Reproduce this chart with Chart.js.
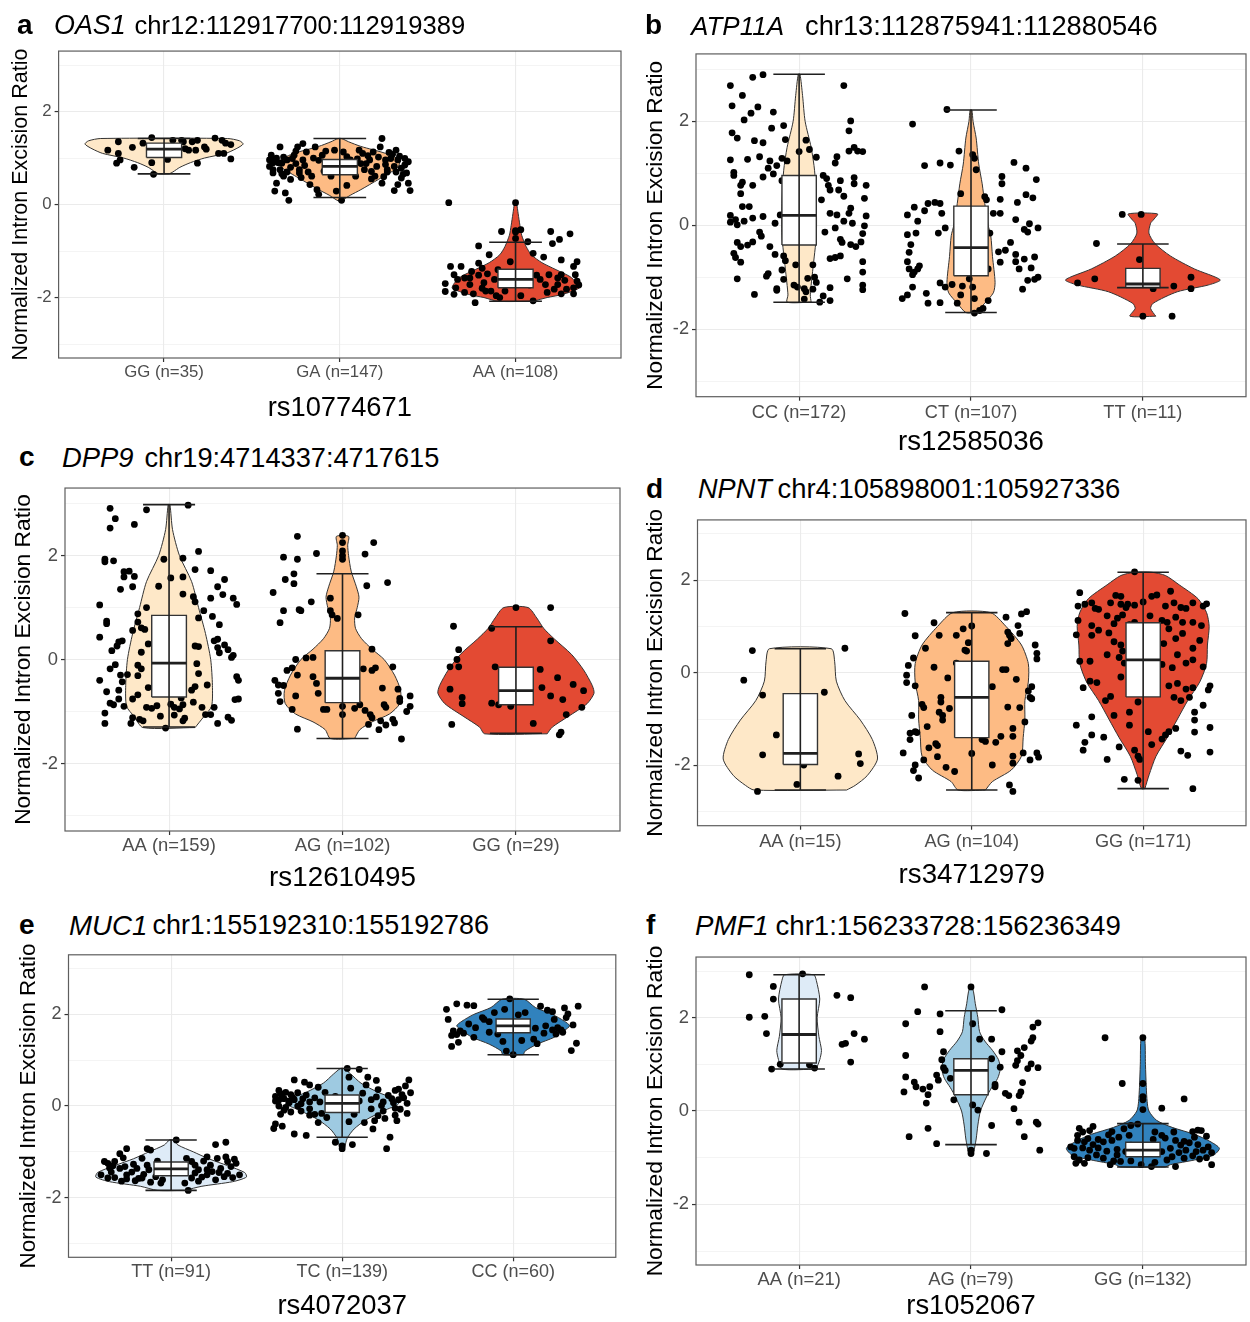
<!DOCTYPE html>
<html lang="en">
<head>
<meta charset="UTF-8" />
<title>Normalized intron excision ratio by genotype</title>
<script src="https://cdn.jsdelivr.net/npm/chart.js"></script>
<style>
  html, body { margin: 0; padding: 0; background: #fff; overflow: hidden; }
  #figure { position: relative; width: 1250px; height: 1322px; overflow: hidden; font-family: 'Liberation Sans', Arial, sans-serif; }
  canvas { position: absolute; }
  .head { position: absolute; white-space: nowrap; line-height: 1; color: #000; z-index: 2; }
  .tag { font-weight: bold; font-size: 28px; }
  .gene { font-style: italic; }
</style>
</head>
<body>
<div id="figure">
  <div class="head tag" style="left:17px;top:11.3px">a</div>
  <div class="head gene" style="left:54px;top:12.2px;font-size:26.9px">OAS1</div>
  <div class="head" style="left:134.5px;top:13.3px;font-size:25.6px">chr12:112917700:112919389</div>

  <div class="head tag" style="left:645px;top:11.3px">b</div>
  <div class="head gene" style="left:691px;top:13px;font-size:26px">ATP11A</div>
  <div class="head" style="left:805px;top:11.9px;font-size:27.3px">chr13:112875941:112880546</div>

  <div class="head tag" style="left:19px;top:443px">c</div>
  <div class="head gene" style="left:62px;top:443.5px;font-size:27.4px">DPP9</div>
  <div class="head" style="left:144.5px;top:443.7px;font-size:27.2px">chr19:4714337:4717615</div>

  <div class="head tag" style="left:646px;top:474.6px">d</div>
  <div class="head gene" style="left:698px;top:475.4px;font-size:27.1px">NPNT</div>
  <div class="head" style="left:777.5px;top:475.1px;font-size:27.4px">chr4:105898001:105927336</div>

  <div class="head tag" style="left:19px;top:911.3px">e</div>
  <div class="head gene" style="left:69px;top:911.6px;font-size:27.7px">MUC1</div>
  <div class="head" style="left:152.5px;top:912.2px;font-size:26.9px">chr1:155192310:155192786</div>

  <div class="head tag" style="left:646px;top:911.3px">f</div>
  <div class="head gene" style="left:695px;top:911.6px;font-size:27.6px">PMF1</div>
  <div class="head" style="left:775.5px;top:911.6px;font-size:27.6px">chr1:156233728:156236349</div>

  <canvas id="panelA"></canvas>
  <canvas id="panelB"></canvas>
  <canvas id="panelC"></canvas>
  <canvas id="panelD"></canvas>
  <canvas id="panelE"></canvas>
  <canvas id="panelF"></canvas>
</div>

<script>
// ---------- data ----------
// box = [lower whisker, Q1, median, Q3, upper whisker]
// violin profile = [y, half width in category units]
// points = [horizontal jitter, y]
const yTitle = 'Normalized Intron Excision Ratio';
const yTickValues = [-3, -2, -1, 0, 1, 2, 3];
const oranges = ['#fee8c8', '#fdbb84', '#e34a33'];
const blues = ['#deebf7', '#9ecae1', '#3182bd'];

// a: OAS1
const aSnp = 'rs10774671';
const aGroups = ['GG (n=35)', 'GA (n=147)', 'AA (n=108)'];
const aBox = [[0.66, 1.01, 1.19, 1.32, 1.42], [0.15, 0.64, 0.82, 0.97, 1.42], [-2.08, -1.79, -1.61, -1.39, -0.81]];
const aViolin1 = [[1.42,0.36],[1.37,0.43],[1.3,0.45],[1.2,0.41],[1.1,0.35],[1.0,0.23],[0.9,0.15],[0.8,0.09],[0.7,0.05],[0.66,0.03]];
const aViolin2 = [[1.42,0.01],[1.35,0.05],[1.25,0.12],[1.1,0.26],[0.95,0.34],[0.8,0.33],[0.65,0.27],[0.54,0.22],[0.32,0.12],[0.2,0.06],[0.08,0.01]];
const aViolin3 = [[0.03,0.005],[-0.2,0.015],[-0.45,0.025],[-0.66,0.035],[-0.9,0.06],[-1.08,0.09],[-1.25,0.15],[-1.4,0.23],[-1.55,0.31],[-1.7,0.35],[-1.8,0.36],[-1.93,0.27],[-2.0,0.18],[-2.08,0.1]];
const aPoints1 = [[-.26,1.35],[-.18,1.23],[-.12,1.32],[-.07,1.44],[-.32,1.17],[-.26,1.10],[-.25,.96],[-.27,.89],[-.17,.80],[-.07,.90],[-.06,.65],[.02,.97],[.05,1.38],[.10,1.38],[.11,1.35],[.12,1.20],[.14,1.17],[.16,1.35],[.18,1.17],[.19,1.38],[.19,.89],[.23,1.24],[.24,1.19],[.29,1.43],[.31,1.10],[.33,1.38],[.34,1.10],[.35,1.32],[.38,1.29],[.38,.98]];
const aPoints2 = [[-.39,1.06],[-.37,.96],[-.34,1.24],[-.40,.82],[-.38,.68],[-.34,.75],[-.32,.61],[-.36,.46],[-.37,.29],[-.31,.25],[-.29,.09],[-.30,.96],[-.26,1.06],[-.24,1.24],[-.21,.96],[-.23,.75],[-.19,1.13],[-.16,.61],[-.17,.43],[-.13,.32],[-.12,.22],[-.14,1.24],[-.10,1.06],[-.07,.85],[-.05,.61],[-.03,1.17],[-.02,.29],[.01,.09],[.02,1.13],[.04,1.03],[.06,.96],[.09,.61],[.11,1.17],[.13,1.10],[.14,.75],[.17,.96],[.19,1.13],[.20,.61],[.21,.82],[.23,1.24],[.24,1.42],[.26,.96],[.27,.75],[.29,.99],[.31,.82],[.32,1.17],[.33,.96],[.35,.57],[.37,.85],[.38,.68],[.39,.46],[.40,.30],[.31,.30],[.33,.43],[.24,.46],[.18,.71],[.04,.41],[-.23,.68],[-.33,.89],[-.21,1.31],[-.40,.96],[-.28,.54],[-.35,.90],[-.28,.80],[-.25,.88],[-.18,.70],[-.12,.95],[.15,.88],[.22,1.02],[.27,.70],[.35,.78],[.30,1.08],[-.38,.75],[-.30,.70],[.36,.65],[.10,.98],[-.08,1.15],[.18,.55],[-.22,.58],[.26,.86],[-.32,1.02],[.39,.92],[-.36,1.0],[-.33,.66],[-.27,.99],[-.20,.84],[-.15,1.0],[-.09,.72],[.07,.72],[.12,.88],[.16,1.05],[.28,1.12],[.34,1.04],[.37,.99],[-.25,1.15],[-.38,.9],[.25,.6],[.32,.7]];
const aPoints3 = [[-.38,.04],[0,.04],[0,-.56],[0,-.59],[0,-.73],[-.08,-.58],[.03,-.54],[.20,-.58],[.25,-.75],[.31,-.63],[.07,-.80],[.21,-.84],[-.21,-.89],[.10,-1.05],[.16,-1.13],[-.15,-1.08],[.26,-1.19],[.35,-1.23],[-.03,-1.23],[-.21,-1.26],[-.37,-1.33],[-.31,-1.33],[.33,-1.33],[-.19,-1.37],[-.10,-1.40],[-.25,-1.44],[-.35,-1.51],[-.29,-1.58],[-.21,-1.52],[-.16,-1.49],[-.12,-1.61],[.12,-1.52],[.19,-1.51],[.24,-1.58],[.28,-1.63],[.35,-1.65],[-.40,-1.70],[-.34,-1.79],[-.26,-1.72],[-.19,-1.80],[-.07,-1.72],[.08,-1.73],[.17,-1.72],[.22,-1.82],[.33,-1.79],[.36,-1.73],[-.40,-1.87],[-.35,-1.93],[-.29,-1.89],[-.24,-1.92],[-.17,-1.86],[-.11,-1.96],[-.06,-1.86],[.03,-1.96],[.10,-2.07],[-.23,-2.11],[.18,-1.89],[.26,-1.92],[.33,-1.92],[.24,-1.72],[-.33,-1.61],[-.09,-2.0],[.29,-1.82],[.14,-1.61],[-.14,-1.86],[-.26,-1.58],[-.18,-1.68],[.26,-1.51],[.34,-1.51]];

// b: ATP11A
const bSnp = 'rs12585036';
const bGroups = ['CC (n=172)', 'CT (n=107)', 'TT (n=11)'];
const bBox = [[-1.48, -0.38, 0.19, 0.96, 2.91], [-1.68, -0.97, -0.43, 0.37, 2.22], [-1.2, -1.2, -1.13, -0.83, -0.36]];
const bViolin1 = [[2.91,0.005],[2.5,0.02],[2.0,0.035],[1.5,0.07],[1.05,0.09],[0.42,0.1],[-0.2,0.1],[-0.84,0.08],[-1.34,0.065],[-1.48,0.07]];
const bViolin2 = [[2.22,0.005],[2.0,0.012],[1.68,0.03],[1.18,0.045],[0.8,0.065],[0.42,0.08],[0.0,0.1],[-0.2,0.115],[-0.6,0.125],[-1.1,0.14],[-1.3,0.13],[-1.5,0.08],[-1.68,0.03]];
const bViolin3 = [[0.22,0.085],[0.1,0.06],[0.04,0.045],[-0.15,0.035],[-0.35,0.07],[-0.59,0.16],[-0.84,0.3],[-1.05,0.45],[-1.15,0.38],[-1.28,0.2],[-1.5,0.06],[-1.6,0.045],[-1.75,0.075]];
const bPoints1 = [[-.40,2.69],[-.27,2.85],[-.21,2.90],[-.33,2.50],[-.39,2.30],[-.24,2.28],[-.32,2.03],[-.28,2.16],[-.15,2.18],[-.09,1.92],[-.16,1.87],[-.39,1.78],[-.36,1.68],[-.26,1.63],[-.21,1.59],[-.08,1.65],[.04,1.64],[.06,1.46],[0,1.42],[.26,2.69],[.30,2.01],[.29,1.82],[.32,1.50],[.29,1.43],[.34,1.43],[.37,1.42],[.22,1.32],[.10,1.31],[-.23,1.32],[-.30,1.27],[-.40,1.26],[-.10,1.29],[-.07,1.24],[-.17,1.24],[-.18,1.10],[-.13,1.15],[.21,1.20],[-.38,1.02],[-.38,.96],[-.21,.93],[-.15,.99],[.14,.96],[.16,.90],[.32,.92],[.24,.86],[.32,.80],[.39,.77],[.17,.77],[-.33,.83],[-.34,.77],[-.27,.77],[-.34,.61],[-.10,.86],[.18,.68],[.23,.68],[.26,.56],[.13,.49],[.38,.52],[.30,.33],[.29,.23],[-.33,.36],[-.29,.36],[-.40,.19],[-.27,.14],[-.21,.17],[-.37,.11],[-.40,.06],[-.32,.08],[-.36,.01],[-.14,.04],[-.11,.20],[.18,.23],[.22,.20],[.39,.18],[.31,.04],[.38,-.01],[.26,.08],[.15,-.13],[.21,-.05],[.37,-.16],[-.23,-.13],[-.22,-.21],[-.36,-.33],[-.34,-.41],[-.27,-.32],[-.30,-.38],[-.17,-.41],[.24,-.27],[.25,-.33],[.30,-.37],[.33,-.41],[.36,-.32],[-.38,-.54],[-.37,-.62],[-.34,-.71],[-.14,-.56],[-.09,-.59],[-.08,-.68],[-.02,-.76],[.08,-.76],[.18,-.64],[.21,-.62],[.24,-.59],[.37,-.70],[.37,-.90],[-.36,-1.03],[-.18,-.93],[-.19,-.98],[-.10,-.86],[-.09,-1.04],[.05,-1.02],[.09,-1.00],[.10,-1.10],[.28,-1.03],[.37,-1.15],[.37,-1.24],[-.13,-1.22],[-.13,-1.25],[-.03,-1.15],[-.01,-1.19],[.03,-1.22],[.04,-1.28],[.18,-1.20],[-.26,-1.33],[.03,-1.42],[.14,-1.36],[.12,-1.48],[.18,-1.45],[.08,-1.23]];
const bPoints2 = [[-.14,2.23],[-.34,1.95],[-.07,1.43],[.01,1.36],[.02,1.29],[.03,1.07],[-.27,1.15],[-.18,1.20],[-.12,1.16],[.25,1.21],[.32,1.10],[.18,.94],[.18,.80],[.38,.88],[-.06,.61],[.08,.55],[.09,.49],[.17,.50],[.32,.59],[.36,.53],[.27,.44],[-.33,.35],[-.27,.28],[-.25,.42],[-.21,.44],[-.18,.42],[-.17,.23],[-.37,.20],[-.31,.08],[.13,.23],[.17,.23],[.26,.11],[.34,.03],[.39,-.05],[.31,-.08],[.33,-.13],[-.37,-.18],[-.32,-.15],[-.19,-.15],[-.15,-.05],[.11,-.15],[.23,-.33],[-.35,-.37],[-.36,-.52],[.16,-.51],[.20,-.48],[.17,-.71],[.26,-.56],[.31,-.65],[.26,-.70],[.37,-.61],[-.37,-.70],[-.36,-.84],[-.33,-.90],[-.31,-.84],[-.34,-.95],[.10,-.84],[.28,-.84],[.35,-.82],[.39,-1.00],[.33,-1.06],[.37,-1.04],[.30,-1.23],[-.18,-1.11],[-.15,-1.19],[-.11,-1.14],[-.05,-1.17],[-.06,-1.34],[-.01,-1.03],[.01,-1.19],[.02,-1.41],[-.34,-1.19],[-.26,-1.31],[-.37,-1.34],[-.40,-1.41],[-.25,-1.50],[-.18,-1.49],[-.08,-1.50],[.10,-1.45],[.07,-1.60],[.02,-1.69],[.05,-1.64],[-.30,-.78]];
const bPoints3 = [[-.12,.21],[-.01,.21],[-.27,-.35],[-.02,-.66],[-.38,-1.11],[-.28,-1.03],[.06,-1.22],[.18,-1.17],[.28,-1.00],[.28,-1.22],[0,-1.75],[.17,-1.75]];

// c: DPP9
const cSnp = 'rs12610495';
const cGroups = ['AA (n=159)', 'AG (n=102)', 'GG (n=29)'];
const cBox = [[-1.3, -0.72, -0.07, 0.85, 2.98], [-1.52, -0.83, -0.36, 0.17, 1.65], [-1.42, -0.87, -0.6, -0.15, 0.63]];
const cViolin1 = [[2.98,0.005],[2.5,0.02],[2.0,0.06],[1.5,0.13],[1.0,0.17],[0.5,0.21],[0.0,0.24],[-0.5,0.25],[-0.9,0.245],[-1.1,0.2],[-1.31,0.15]];
const cViolin2 = [[2.37,0.035],[2.2,0.03],[2.0,0.035],[1.7,0.05],[1.4,0.08],[1.2,0.095],[1.0,0.085],[0.8,0.07],[0.6,0.075],[0.4,0.11],[0.2,0.17],[0.0,0.24],[-0.3,0.3],[-0.6,0.335],[-0.85,0.33],[-1.05,0.27],[-1.2,0.17],[-1.35,0.1],[-1.52,0.07]];
const cViolin3 = [[1.0,0.07],[0.8,0.12],[0.6,0.16],[0.4,0.22],[0.1,0.32],[-0.2,0.39],[-0.5,0.44],[-0.65,0.45],[-0.85,0.41],[-1.1,0.3],[-1.3,0.21],[-1.43,0.18]];
const cPoints1 = [[-.34,2.91],[-.13,2.88],[.11,2.97],[-.31,2.71],[-.34,2.53],[-.20,2.60],[-.37,1.93],[-.37,1.88],[-.32,1.90],[-.03,1.93],[.08,1.95],[.17,2.08],[-.26,1.69],[-.23,1.70],[-.26,1.59],[-.20,1.60],[-.28,1.35],[-.21,1.40],[-.06,1.41],[.01,1.57],[.08,1.59],[.15,1.73],[.24,1.71],[.32,1.54],[.28,1.40],[.31,1.25],[.37,1.18],[.39,1.06],[.24,1.18],[.14,1.21],[.15,1.11],[.08,1.26],[-.40,1.05],[-.13,1.00],[-.18,.88],[.20,.94],[.17,.80],[.25,.83],[-.36,.74],[-.36,.69],[-.18,.72],[-.16,.61],[-.14,.58],[-.21,.56],[.29,.67],[.28,.39],[.26,.36],[.32,.28],[.34,.19],[.37,.08],[-.40,.43],[-.29,.34],[-.27,.36],[-.30,.26],[-.33,.17],[-.12,.30],[-.16,.14],[.15,.26],[.17,.25],[.28,.23],[.29,.13],[-.34,-.18],[-.31,-.10],[-.18,-.11],[-.16,-.18],[-.28,-.30],[-.24,-.29],[-.27,-.43],[-.18,-.31],[.16,-.08],[.17,-.27],[.15,-.52],[.13,-.59],[.39,-.33],[.40,-.40],[.36,.04],[-.40,-.40],[-.36,-.62],[-.34,-.84],[-.32,-.87],[-.29,-.59],[-.26,-.90],[-.21,-.76],[-.18,-.68],[-.12,-.54],[0,-.65],[.07,-.74],[.08,-.87],[.14,-.82],[.19,-.92],[.26,-.92],[.38,-.77],[.40,-.76],[-.13,-.92],[-.10,-.94],[-.07,-.89],[-.05,-1.09],[.03,-.92],[.03,-1.07],[.08,-1.18],[.09,-1.13],[.21,-1.06],[.24,-1.06],[.28,-1.23],[.34,-1.11],[.36,-1.17],[-.37,-1.03],[-.37,-1.23],[-.22,-1.23],[-.21,-1.12],[-.17,-1.15],[-.15,-1.18],[-.02,-1.32],[.01,-.86],[.06,-.95],[-.29,-.76],[.22,-.49]];
const cPoints2 = [[0,2.39],[0,2.25],[0,2.09],[0,2.0],[0,1.93],[-.26,2.37],[.18,2.25],[-.15,2.04],[.13,2.03],[-.34,1.97],[-.26,1.93],[-.28,1.65],[-.33,1.54],[-.28,1.46],[.14,1.42],[.26,1.48],[-.40,1.29],[-.07,1.18],[-.18,1.11],[-.34,.94],[-.25,.96],[-.24,.94],[-.07,.94],[-.06,.86],[-.03,.79],[.09,.86],[-.36,.71],[.17,.20],[-.27,0],[-.21,.03],[-.17,.04],[-.32,-.21],[-.29,-.16],[-.26,-.30],[-.39,-.40],[-.37,-.49],[-.34,-.50],[-.37,-.65],[-.36,-.81],[-.27,-.70],[-.29,-.96],[-.26,-1.34],[-.17,-.33],[-.15,-.46],[-.14,-.65],[-.11,-.96],[-.09,-.96],[0,-1.06],[0,-.90],[.12,-.18],[.17,-.21],[.19,-.16],[.07,-.94],[.10,-.87],[.13,-.98],[.16,-1.06],[.17,-1.12],[.15,-1.25],[.23,-.55],[.24,-.87],[.25,-.92],[.22,-1.18],[.25,-1.26],[.29,-1.15],[.29,-.14],[.30,-1.22],[.32,-.57],[.33,-.75],[.33,-.81],[.39,-.70],[.39,-.90],[.37,-1.00],[.34,-1.53],[.21,-1.35],[-.04,-.33],[.08,-.24]];
const cPoints3 = [[0,1.0],[.20,1.0],[-.36,.64],[-.14,.60],[.20,.36],[-.33,.19],[-.34,0],[-.38,-.14],[-.33,-.14],[-.12,-.14],[.14,-.19],[-.38,-.57],[-.31,-.73],[-.31,-.85],[-.10,-.87],[-.03,-.90],[.15,-.54],[.24,-.35],[.33,-.48],[.39,-.60],[.20,-.70],[.27,-.77],[.38,-.92],[.29,-1.06],[-.37,-1.25],[.10,-1.23],[.26,-1.40],[.25,-1.45],[-.14,-.84]];

// d: NPNT
const dSnp = 'rs34712979';
const dGroups = ['AA (n=15)', 'AG (n=104)', 'GG (n=171)'];
const dBox = [[-2.53, -1.98, -1.74, -0.45, 0.52], [-2.53, -1.4, -0.53, 0.25, 1.3], [-2.5, -0.52, 0.28, 1.08, 2.17]];
const dViolin1 = [[0.52,0.18],[0.25,0.2],[-0.18,0.21],[-0.6,0.26],[-1.02,0.35],[-1.44,0.42],[-1.86,0.45],[-2.22,0.39],[-2.43,0.32],[-2.53,0.27]];
const dViolin2 = [[1.3,0.11],[1.0,0.2],[0.6,0.29],[0.2,0.33],[-0.2,0.33],[-0.6,0.31],[-1.0,0.31],[-1.4,0.3],[-1.8,0.29],[-2.1,0.23],[-2.35,0.12],[-2.53,0.08]];
const dViolin3 = [[2.17,0.05],[2.1,0.13],[1.9,0.21],[1.6,0.32],[1.3,0.37],[1.0,0.385],[0.6,0.375],[0.2,0.37],[-0.2,0.33],[-0.6,0.26],[-1.0,0.2],[-1.4,0.14],[-1.8,0.075],[-2.2,0.035],[-2.5,0.01]];
const dPoints1 = [[-.28,.48],[.26,.53],[-.33,-.16],[-.22,-.48],[.14,-.42],[-.14,-1.34],[-.22,-1.77],[.34,-1.75],[.35,-1.96],[.02,-1.99],[.22,-2.23],[-.02,-2.41],[-.25,-2.56],[.03,-1.8],[-.05,-.9]];
const dPoints2 = [[-.39,1.28],[-.22,1.08],[-.33,.80],[-.19,.81],[-.27,.53],[-.34,.32],[-.37,.16],[-.38,-.05],[-.38,-.21],[-.33,-.28],[-.35,-.92],[-.40,-1.73],[-.36,-1.30],[-.33,-1.27],[-.36,-1.44],[-.32,-1.29],[-.34,-2.11],[-.33,-1.99],[-.31,-2.27],[-.28,-1.88],[-.29,-.68],[-.28,-.75],[-.26,-1.16],[-.25,-1.62],[-.21,-1.53],[-.20,-1.57],[-.20,-1.81],[-.22,.12],[-.18,-.53],[-.18,-.63],[-.19,-.85],[-.17,-.92],[-.17,-1.02],[-.14,-.11],[-.13,-.77],[-.09,.81],[-.09,.21],[-.05,.95],[-.04,.49],[-.03,.47],[-.02,.65],[0,1.01],[0,-1.74],[-.15,-2.04],[-.10,-2.13],[.06,-1.44],[.08,-1.48],[.12,-.30],[.14,-1.50],[.17,-1.37],[.12,-1.99],[.18,.07],[.20,.07],[.20,1.20],[.21,-.74],[.21,.63],[.22,.81],[.21,.88],[.23,.74],[.26,-.14],[.24,-1.20],[.24,-1.37],[.24,-1.80],[.24,-1.95],[.22,-2.42],[.24,-2.56],[.27,1.02],[.28,.85],[.28,-.75],[.29,1.27],[.32,1.32],[.30,-1.73],[.31,-1.06],[.33,-.39],[.34,-.53],[.35,-.30],[.35,-.56],[.37,.60],[.38,.42],[.38,.30],[.38,-1.73],[.39,-1.82],[.34,-1.88]];
const dPoints3 = [[-.05,2.18],[-.37,1.73],[.16,1.76],[-.38,1.44],[-.34,1.48],[-.30,1.51],[-.28,1.39],[-.26,1.37],[-.19,1.51],[-.16,1.67],[-.13,1.65],[-.13,1.48],[-.10,1.41],[-.09,1.48],[-.05,1.46],[0,1.53],[.05,1.65],[.08,1.68],[.13,1.44],[.18,1.51],[.22,1.41],[.25,1.39],[.29,1.51],[.37,1.49],[.35,1.44],[-.38,1.13],[-.30,1.02],[-.21,1.23],[-.17,1.06],[-.15,1.18],[-.12,1.25],[-.08,1.04],[-.05,1.09],[.04,1.23],[.11,1.13],[.14,1.09],[.19,1.20],[.23,1.09],[.29,1.09],[.34,1.02],[-.39,.82],[-.30,.81],[-.26,.92],[-.20,.86],[-.17,.67],[-.13,.60],[-.12,.47],[-.05,.67],[.15,.95],[.19,.74],[.23,.85],[.33,.70],[.29,.53],[.20,.39],[.12,.63],[-.37,.25],[-.31,.25],[-.21,.39],[-.14,.33],[-.11,.21],[-.06,.11],[.11,.18],[.17,.11],[.25,.21],[.29,.28],[.35,.13],[-.35,-.32],[-.31,-.18],[-.27,-.21],[-.19,-.51],[-.22,-.60],[-.17,-.92],[-.13,-.09],[-.03,-.63],[-.08,-.85],[.15,-.28],[.20,-.23],[.18,-.53],[.22,-.60],[.25,-.35],[.27,-.53],[.29,-.32],[.39,-.28],[.38,-.37],[.35,-.70],[.30,-.85],[.30,-1.02],[.30,-1.28],[.39,-1.18],[.39,-1.71],[.26,-1.78],[.22,-1.69],[.19,-1.20],[.15,-1.27],[.13,-1.34],[.11,-1.43],[.03,-1.27],[.05,-1.55],[-.05,-1.67],[-.03,-1.80],[-.02,-1.87],[-.08,-1.13],[-.14,-1.60],[-.39,-1.13],[-.30,-.95],[-.30,-1.34],[-.34,-1.50],[-.35,-1.67],[-.23,-1.39],[-.21,-1.87],[-.11,-2.30],[-.03,-2.32],[.29,-2.50]];

// e: MUC1
const eSnp = 'rs4072037';
const eGroups = ['TT (n=91)', 'TC (n=139)', 'CC (n=60)'];
const eBox = [[-1.84, -1.52, -1.37, -1.22, -0.74], [-0.68, -0.14, 0.06, 0.24, 0.82], [1.12, 1.6, 1.75, 1.9, 2.33]];
const eViolin1 = [[-0.74,0.01],[-0.85,0.04],[-1.0,0.13],[-1.15,0.22],[-1.3,0.33],[-1.45,0.43],[-1.55,0.44],[-1.65,0.36],[-1.75,0.18],[-1.84,0.08]];
const eViolin2 = [[0.82,0.01],[0.7,0.05],[0.5,0.11],[0.3,0.21],[0.15,0.31],[0.05,0.33],[-0.1,0.245],[-0.3,0.14],[-0.5,0.07],[-0.7,0.03],[-0.9,0.015],[-0.95,0.01]];
const eViolin3 = [[2.33,0.065],[2.15,0.13],[2.0,0.23],[1.85,0.3],[1.75,0.33],[1.65,0.3],[1.5,0.24],[1.35,0.14],[1.2,0.07],[1.12,0.06]];
const ePoints1 = [[.03,-.74],[.10,-1.84],[-.26,-.93],[-.14,-.93],[-.12,-.96],[.26,-.84],[.32,-.79],[-.17,-1.14],[-.30,-1.04],[-.28,-1.13],[-.39,-1.21],[-.37,-1.25],[-.34,-1.30],[-.30,-1.36],[-.27,-1.32],[-.23,-1.44],[-.20,-1.36],[-.16,-1.49],[-.14,-1.29],[-.08,-1.20],[-.41,-1.50],[-.37,-1.57],[-.33,-1.56],[-.29,-1.64],[-.26,-1.59],[-.21,-1.63],[-.17,-1.57],[-.12,-1.66],[-.06,-1.68],[-.05,-1.61],[.09,-1.14],[.14,-1.29],[.16,-1.39],[.19,-1.20],[.21,-1.11],[.23,-1.29],[.27,-1.14],[.29,-1.36],[.32,-1.11],[.33,-1.21],[.35,-1.32],[.37,-1.16],[.38,-1.25],[.40,-1.50],[.36,-1.56],[.31,-1.54],[.26,-1.61],[.21,-1.50],[.16,-1.64],[.12,-1.57],[.08,-1.68],[.14,-1.46],[.21,-1.39],[.24,-1.43],[.07,-1.29],[-.26,-1.50],[-.09,-1.54],[-.35,-1.44],[.06,-1.43],[-.13,-1.39],[-.33,-1.21],[-.22,-1.27],[-.19,-1.58],[.12,-1.21],[.18,-1.55],[.28,-1.45],[.33,-1.47],[-.36,-1.35]];
const ePoints2 = [[.03,.82],[.10,.80],[.04,.63],[-.28,.57],[-.22,.52],[-.19,.46],[-.14,.41],[.15,.63],[.20,.56],[.39,.57],[.37,.44],[.31,.34],[.33,.37],[.40,.29],[-.37,.34],[-.36,.27],[-.33,.30],[-.30,.25],[-.26,.29],[-.39,.21],[-.39,.11],[-.37,.13],[-.34,.16],[-.31,.11],[-.28,.14],[-.23,.16],[-.19,.09],[-.16,.18],[-.13,.09],[-.37,0],[-.34,-.09],[-.30,-.13],[-.24,-.11],[-.19,-.06],[-.16,-.18],[-.12,-.16],[-.09,-.25],[-.36,-.18],[-.39,-.39],[-.40,-.49],[-.35,-.44],[-.28,-.61],[-.21,-.64],[-.14,-.36],[-.04,-.79],[0,-.87],[0,-.93],[.06,-.84],[.04,-.34],[.13,-.36],[.18,-.50],[.19,-.32],[.21,-.21],[.17,-.06],[.20,.20],[.24,.09],[.27,.23],[.30,.07],[.33,.14],[.35,.25],[.38,.06],[.38,-.16],[.31,-.20],[.25,-.27],[.32,-.32],[.28,-.68],[.26,-.93],[.05,.39],[.14,.46],[.21,.36],[-.04,.21],[.10,.11],[.07,-.18],[-.07,0],[.24,-.11],[.34,-.07],[-.26,0],[-.31,.07],[-.19,-.20],[-.35,.2],[-.29,.19],[-.21,.24],[-.10,.30],[.12,.28],[.17,.14],[.23,.01],[.29,.16],[.36,.18],[-.33,-.03],[-.24,.05],[.31,-.05]];
const ePoints3 = [[-.02,2.34],[-.39,2.11],[-.33,2.23],[-.27,2.20],[-.23,2.19],[-.38,1.89],[-.35,1.64],[-.36,1.54],[-.33,1.56],[-.29,1.59],[-.23,1.50],[-.36,1.30],[-.32,1.39],[-.18,1.93],[-.14,1.84],[-.14,1.61],[-.11,2.04],[-.06,1.41],[-.04,1.20],[0,1.12],[.03,1.99],[.07,2.04],[.16,2.18],[.20,2.09],[.23,2.06],[.30,2.14],[.38,2.18],[.31,1.93],[.35,1.77],[.26,1.71],[.23,1.66],[.19,1.75],[.13,1.70],[.12,1.46],[.05,1.43],[.14,1.36],[.18,1.59],[.25,1.57],[.29,1.61],[.37,1.37],[.34,1.21],[.28,1.66],[.07,1.79],[-.06,1.82],[-.17,1.89],[-.22,1.71],[-.26,1.79],[-.31,1.64],[-.09,1.57],[-.05,2.11],[.32,2.01],[.24,1.89]];

// f: PMF1
const fSnp = 'rs1052067';
const fGroups = ['AA (n=21)', 'AG (n=79)', 'GG (n=132)'];
const fBox = [[0.9, 1.03, 1.64, 2.4, 2.92], [-0.72, 0.35, 0.87, 1.12, 2.15], [-1.2, -0.98, -0.84, -0.67, -0.27]];
const fViolin1 = [[2.92,0.085],[2.8,0.1],[2.4,0.12],[2.0,0.105],[1.6,0.115],[1.3,0.13],[1.1,0.12],[0.9,0.1]];
const fViolin2 = [[2.62,0.01],[2.3,0.025],[2.0,0.04],[1.7,0.05],[1.5,0.08],[1.3,0.125],[1.1,0.16],[0.9,0.17],[0.7,0.155],[0.5,0.12],[0.3,0.09],[0.0,0.055],[-0.3,0.04],[-0.6,0.03],[-0.9,0.015],[-0.95,0.01]];
const fViolin3 = [[1.57,0.01],[1.0,0.015],[0.5,0.02],[0.2,0.025],[0.0,0.035],[-0.2,0.08],[-0.35,0.17],[-0.5,0.3],[-0.65,0.39],[-0.8,0.445],[-0.95,0.41],[-1.05,0.3],[-1.15,0.16],[-1.2,0.13]];
const fPoints1 = [[-.29,2.92],[.02,2.94],[-.15,2.67],[-.15,2.40],[.22,2.48],[.30,2.43],[-.29,2.01],[-.20,2.03],[-.19,1.66],[.32,1.66],[.38,1.54],[.25,1.43],[.27,1.45],[.30,1.05],[-.16,.90],[-.11,1.0],[.06,.99],[.09,.92]];
const fPoints2 = [[-.27,2.66],[0,2.66],[-.31,2.13],[-.18,2.08],[.18,2.17],[-.38,1.87],[.01,1.87],[.39,1.89],[.36,1.80],[-.18,1.70],[.36,1.57],[.35,1.50],[.05,1.54],[.12,1.54],[.31,1.36],[.27,1.29],[.18,1.27],[-.16,1.27],[-.38,1.19],[.12,1.12],[-.17,1.10],[.29,1.19],[.27,1.08],[.35,1.01],[.26,.98],[.33,.91],[.39,.93],[.17,.94],[-.16,.93],[-.15,.87],[-.38,.73],[-.20,.77],[-.33,.62],[-.12,.70],[-.19,.66],[.14,.57],[.30,.61],[-.32,.52],[-.28,.47],[-.24,.52],[-.25,.35],[-.39,.41],[.14,.52],[.20,.38],[.22,.33],[.28,.33],[.29,.41],[-.10,.24],[-.26,.17],[.01,.13],[.04,.02],[.25,.05],[.28,-.24],[.38,-.24],[.39,-.28],[.12,-.31],[-.25,-.37],[-.36,-.55],[.31,-.55],[-.20,-.70],[0,-.84],[0,-.91],[.09,-.91],[.40,-.84]];
const fPoints3 = [[0,1.57],[0,.59],[0,.31],[0,.24],[0,.03],[-.12,.59],[-.22,1.57],[.24,.26],[.11,.06],[-.37,-.37],[-.35,-.45],[-.29,-.33],[-.31,-.42],[-.18,-.44],[-.11,-.38],[-.07,-.31],[-.03,-.28],[.07,-.45],[.11,-.52],[.18,-.45],[.29,-.44],[.32,-.41],[.34,-.42],[.37,-.54],[-.38,-.52],[-.38,-.63],[-.34,-.66],[-.32,-.59],[-.26,-.61],[-.23,-.66],[-.18,-.63],[-.14,-.56],[-.08,-.52],[.06,-.61],[.13,-.58],[.19,-.63],[.24,-.65],[.27,-.68],[.32,-.72],[.38,-.77],[-.42,-.77],[-.40,-.80],[-.35,-.79],[-.31,-.84],[-.26,-.79],[-.21,-.86],[-.15,-.82],[-.10,-.87],[.11,-.87],[.16,-.80],[.21,-.89],[.25,-.84],[.31,-.87],[.35,-.84],[.40,-.89],[-.40,-.98],[-.37,-1.05],[-.32,-1.00],[-.27,-.94],[-.23,-1.01],[-.17,-1.07],[-.13,-1.08],[-.07,-1.07],[.07,-1.10],[.14,-1.05],[.19,-1.19],[.24,-1.01],[.29,-.96],[.33,-1.03],[.37,-1.00],[.40,-1.15],[-.39,-1.12],[-.34,-1.12],[-.19,-1.15],[-.01,-1.15],[.05,-1.19],[-.15,-.94],[.17,-.98],[-.29,-.72],[.22,-.73],[.07,-.77],[-.07,-.73],[-.20,-.51],[.30,-.56]];

// ---------- layout of the six panels (page pixels) ----------
// plot = [left, top, right, bottom] of the panel box
const panelLayout = [
  { id: 'panelA', left: 0,   plot: [58.6, 46.7, 621, 358],     tickY: 372.5,  titleY: 408,   yTitleX: 21,  tick: 16.8, xTitle: 27.3, yTitle: 21.5 },
  { id: 'panelB', left: 625, plot: [696, 48.3, 1250, 396.7],   tickY: 412.7,  titleY: 442.7, yTitleX: 656, tick: 18.2, xTitle: 27.6, yTitle: 22.7 },
  { id: 'panelC', left: 0,   plot: [65, 482.3, 620, 831],      tickY: 845.7,  titleY: 878.3, yTitleX: 24,  tick: 18.4, xTitle: 27.8, yTitle: 22.8 },
  { id: 'panelD', left: 625, plot: [697.5, 514.3, 1250, 825.7],tickY: 841.7,  titleY: 875,   yTitleX: 656, tick: 18.2, xTitle: 27.7, yTitle: 22.6 },
  { id: 'panelE', left: 0,   plot: [68.5, 949.3, 615.8, 1257.3],tickY: 1271.7,titleY: 1306,  yTitleX: 29,  tick: 18.0, xTitle: 27.4, yTitle: 22.4 },
  { id: 'panelF', left: 625, plot: [696, 951.7, 1250, 1265],   tickY: 1280,   titleY: 1306,  yTitleX: 656, tick: 18.4, xTitle: 27.4, yTitle: 22.8 }
];

const FONT = "'Liberation Sans', Arial, sans-serif";
const BOX_HALF = 0.1;
const CAP_HALF = 0.15;

Chart.defaults.font.family = FONT;

function xy(pairs) {
  return pairs.map(p => ({ x: p[0], y: p[1] }));
}

function violinOutline(c, profile) {
  const s = profile.slice().sort((a, b) => a[0] - b[0]);
  const right = s.map(r => [c + r[1], r[0]]);
  const left = s.slice().reverse().map(r => [c - r[1], r[0]]);
  return xy(right.concat(left, [right[0]]));
}

function lineSet(pairs, width, order) {
  return { data: xy(pairs), showLine: true, borderColor: '#1f1f1f', borderWidth: width, pointRadius: 0, fill: false, order };
}

function panelDatasets(violins, boxes, points, colors) {
  const ds = [];
  violins.forEach((v, i) => {
    const c = i + 1;
    const b = boxes[i];
    ds.push({ data: violinOutline(c, v), showLine: true, fill: 'shape', backgroundColor: colors[i],
      borderColor: '#333', borderWidth: 1, tension: 0.25, pointRadius: 0, order: 50 });
    ds.push({ data: xy(points[i].map(p => [c + p[0], p[1]])), pointRadius: 3.4,
      pointBackgroundColor: '#000', pointBorderWidth: 0, order: 40 });
    ds.push({ data: xy([[c - BOX_HALF, b[1]], [c + BOX_HALF, b[1]], [c + BOX_HALF, b[3]], [c - BOX_HALF, b[3]], [c - BOX_HALF, b[1]]]),
      showLine: true, fill: 'shape', backgroundColor: '#fff', borderColor: '#333', borderWidth: 1.4, pointRadius: 0, order: 30 });
    ds.push(lineSet([[c, b[0]], [c, b[4]]], 1.6, 20));
    ds.push(lineSet([[c - CAP_HALF, b[0]], [c + CAP_HALF, b[0]]], 1.6, 20));
    ds.push(lineSet([[c - CAP_HALF, b[4]], [c + CAP_HALF, b[4]]], 1.6, 20));
    ds.push(lineSet([[c - BOX_HALF, b[2]], [c + BOX_HALF, b[2]]], 2.8, 10));
  });
  return ds;
}

const panelFrame = {
  id: 'panelFrame',
  afterDatasetsDraw(chart) {
    const { ctx, chartArea: a } = chart;
    ctx.save();
    ctx.strokeStyle = '#5e5e5e';
    ctx.lineWidth = 1.2;
    ctx.strokeRect(a.left, a.top, a.right - a.left, a.bottom - a.top);
    ctx.restore();
  }
};

function drawPanel(L, groups, snp, violins, boxes, points, colors) {
  const lhX = L.xTitle * 1.2;
  const lhY = L.yTitle * 1.2;
  const top = Math.floor(L.plot[1]) - 8;
  const bottom = Math.ceil(L.titleY + lhX / 2) + 2;
  const canvas = document.getElementById(L.id);
  canvas.width = 625;
  canvas.height = bottom - top;
  canvas.style.left = L.left + 'px';
  canvas.style.top = top + 'px';

  const axisW = L.plot[0] - L.left;
  const axisH = bottom - L.plot[3];

  new Chart(canvas, {
    type: 'scatter',
    data: { datasets: panelDatasets(violins, boxes, points, colors) },
    options: {
      responsive: false,
      animation: false,
      events: [],
      layout: { padding: { left: 0, top: L.plot[1] - top, right: L.left + 625 - L.plot[2], bottom: 0 } },
      plugins: { legend: { display: false }, tooltip: { enabled: false } },
      scales: {
        x: {
          type: 'linear', min: 0.4, max: 3.6,
          afterBuildTicks: s => { s.ticks = [1, 2, 3].map(v => ({ value: v })); },
          afterFit: s => { s.height = axisH; },
          border: { display: false },
          grid: { color: '#ebebeb', lineWidth: 1.1, tickLength: 4, tickColor: '#333', tickWidth: 1.2 },
          ticks: { color: '#4d4d4d', font: { size: L.tick }, padding: Math.max(0, L.tickY - L.plot[3] - 4 - L.tick * 0.6),
            maxRotation: 0, autoSkip: false, callback: v => groups[v - 1] },
          title: { display: true, text: snp, color: '#000', font: { size: L.xTitle },
            padding: { top: 0, bottom: bottom - L.titleY - lhX / 2 } }
        },
        y: {
          type: 'linear', min: -3.3, max: 3.3,
          afterBuildTicks: s => { s.ticks = yTickValues.map(v => ({ value: v })); },
          afterFit: s => { s.width = axisW; },
          border: { display: false },
          grid: {
            color: '#ebebeb',
            lineWidth: c => (c.tick && c.tick.value % 2 === 0 ? 1.1 : 0.55),
            tickLength: 4,
            tickColor: c => (c.tick && c.tick.value % 2 === 0 ? '#333' : 'rgba(0,0,0,0)'),
            tickWidth: 1.2
          },
          ticks: { color: '#4d4d4d', font: { size: L.tick }, padding: 3, callback: v => (v % 2 === 0 ? String(v) : '') },
          title: { display: true, text: yTitle, color: '#000', font: { size: L.yTitle },
            padding: { top: L.yTitleX - L.left - lhY / 2, bottom: 0 } }
        }
      }
    },
    plugins: [panelFrame]
  });
}

drawPanel(panelLayout[0], aGroups, aSnp, [aViolin1, aViolin2, aViolin3], aBox, [aPoints1, aPoints2, aPoints3], oranges);
drawPanel(panelLayout[1], bGroups, bSnp, [bViolin1, bViolin2, bViolin3], bBox, [bPoints1, bPoints2, bPoints3], oranges);
drawPanel(panelLayout[2], cGroups, cSnp, [cViolin1, cViolin2, cViolin3], cBox, [cPoints1, cPoints2, cPoints3], oranges);
drawPanel(panelLayout[3], dGroups, dSnp, [dViolin1, dViolin2, dViolin3], dBox, [dPoints1, dPoints2, dPoints3], oranges);
drawPanel(panelLayout[4], eGroups, eSnp, [eViolin1, eViolin2, eViolin3], eBox, [ePoints1, ePoints2, ePoints3], blues);
drawPanel(panelLayout[5], fGroups, fSnp, [fViolin1, fViolin2, fViolin3], fBox, [fPoints1, fPoints2, fPoints3], blues);
</script>
</body>
</html>
